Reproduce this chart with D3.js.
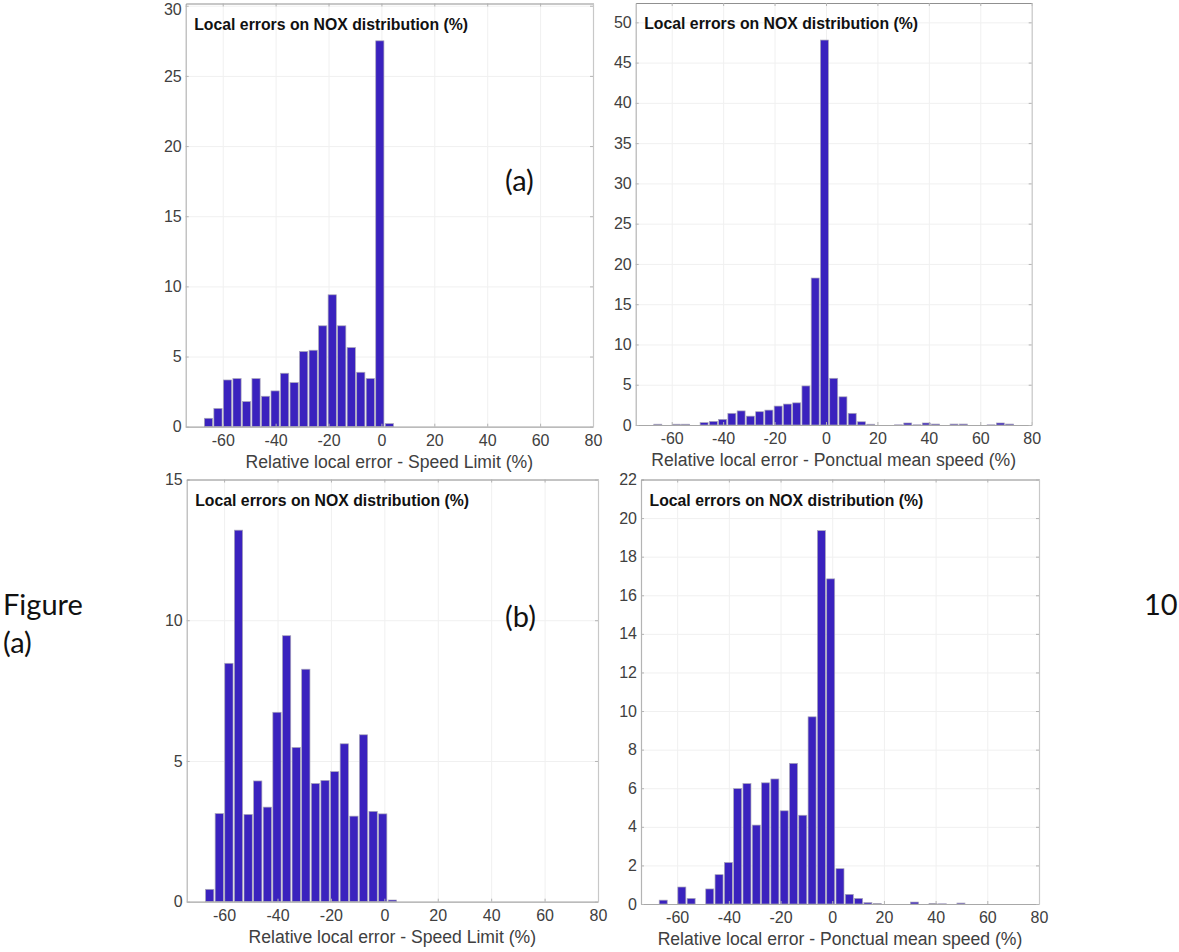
<!DOCTYPE html>
<html>
<head>
<meta charset="utf-8">
<script src="https://cdn.jsdelivr.net/npm/d3@7"></script>
<style>
  html, body { margin: 0; padding: 0; background: #fff; }
  svg { display: block; }
  .tick text { font-family: "Liberation Sans", sans-serif; font-size: 16px; fill: #404040; }
</style>
</head>
<body>
<div id="chart"></div>
<script>
// histogram bin centres, shared by the four panels
var binCenters = [-65.4, -61.8, -58.2, -54.6, -51, -47.4, -43.8, -40.2, -36.6, -33,
    -29.4, -25.8, -22.2, -18.6, -15, -11.4, -7.8, -4.2, -0.6, 3,
    6.6, 10.2, 13.8, 17.4, 21, 24.6, 28.2, 31.8, 35.4, 39,
    42.6, 46.2, 49.8, 53.4, 57, 60.6, 64.2, 67.8, 71.4, 75];

// values, one per bin
var speedLimitA = [0.6, 1.3, 3.33, 3.43, 1.79, 3.43, 2.17, 2.55, 3.81, 3.14,
    5.36, 5.45, 7.19, 9.4, 7.19, 5.64, 3.88, 3.43, 27.5, 0.22,
    0, 0, 0, 0, 0, 0, 0, 0, 0, 0,
    0, 0, 0, 0, 0, 0, 0, 0, 0, 0];
var meanSpeedA = [0.1, 0, 0.1, 0.1, 0, 0.3, 0.45, 0.7, 1.45, 1.75,
    1.1, 1.65, 1.85, 2.35, 2.6, 2.75, 4.85, 18.25, 47.8, 5.8,
    3.5, 1.45, 0.4, 0.1, 0, 0, 0.02, 0.25, 0.02, 0.25,
    0.12, 0, 0.12, 0.12, 0, 0, 0.02, 0.25, 0.12, 0];
var speedLimitB = [0.44, 3.13, 8.47, 13.2, 3.1, 4.29, 3.36, 6.73, 9.45, 5.48,
    8.26, 4.2, 4.31, 4.62, 5.61, 3.04, 5.93, 3.21, 3.12, 0.06,
    0, 0, 0, 0, 0, 0, 0, 0, 0, 0,
    0, 0, 0, 0, 0, 0, 0, 0, 0, 0];
var meanSpeedB = [0.2, 0, 0.88, 0.29, 0, 0.78, 1.52, 2.15, 5.98, 6.24,
    4.09, 6.28, 6.48, 4.83, 7.29, 4.6, 9.7, 19.35, 16.85, 1.83,
    0.5, 0.29, 0.07, 0.02, 0, 0, 0, 0.1, 0, 0.03,
    0.01, 0, 0.05, 0, 0, 0, 0, 0, 0, 0];

// tick labels
var xTicks = [-60, -40, -20, 0, 20, 40, 60, 80];
var yTicksA = [0, 5, 10, 15, 20, 25, 30];
var yTicksMeanA = [0, 5, 10, 15, 20, 25, 30, 35, 40, 45, 50];
var yTicksB = [0, 5, 10, 15];
var yTicksMeanB = [0, 2, 4, 6, 8, 10, 12, 14, 16, 18, 20, 22];

var panelTitle = "Local errors on NOX distribution (%)";
var labelSpeedLimit = "Relative local error - Speed Limit (%)";
var labelMeanSpeed = "Relative local error - Ponctual mean speed (%)";

var panels = [
    { left: 185.7, right: 593, top: 3.5, bottom: 426.7, yMax: 30.16, values: speedLimitA, yTicks: yTicksA, xLabel: labelSpeedLimit },
    { left: 635.7, right: 1031.7, top: 3, bottom: 425, yMax: 52.4, values: meanSpeedA, yTicks: yTicksMeanA, xLabel: labelMeanSpeed },
    { left: 186.7, right: 598, top: 479.5, bottom: 901.7, yMax: 15, values: speedLimitB, yTicks: yTicksB, xLabel: labelSpeedLimit },
    { left: 641, right: 1039, top: 479.5, bottom: 904, yMax: 22, values: meanSpeedB, yTicks: yTicksMeanB, xLabel: labelMeanSpeed }
];

var svg = d3.select("#chart")
    .append("svg")
    .attr("width", 1179)
    .attr("height", 952);

// plain hyphen on the negative ticks, like the original
function plainNumber(d) { return String(d); }

panels.forEach(function (p) {
    var w = p.right - p.left,
        h = p.bottom - p.top;

    var g = svg.append("g")
        .attr("transform", "translate(" + p.left + "," + p.top + ")");

    var x = d3.scaleLinear().domain([-74, 80]).range([0, w]);
    var y = d3.scaleLinear().domain([0, p.yMax]).range([h, 0]);

    // grid lines
    var xGrid = g.append("g")
        .attr("transform", "translate(0," + h + ")")
        .call(d3.axisBottom(x).tickValues(xTicks).tickSize(-h).tickFormat(""));
    var yGrid = g.append("g")
        .call(d3.axisLeft(y).tickValues(p.yTicks).tickSize(-w).tickFormat(""));
    [xGrid, yGrid].forEach(function (a) {
        a.select(".domain").remove();
        a.selectAll("line").attr("stroke", "#f0f0f0").attr("stroke-width", 1);
    });

    // bars
    var barWidth = x(3.1) - x(0);
    g.selectAll("rect.bar")
        .data(binCenters)
        .enter().append("rect")
        .attr("class", "bar")
        .attr("x", function (d) { return x(d) - barWidth / 2; })
        .attr("y", function (d, i) { return y(p.values[i]); })
        .attr("width", barWidth)
        .attr("height", function (d, i) { return h - y(p.values[i]); })
        .attr("fill", "#3a22be")
        .attr("stroke", "#a9a6b8")
        .attr("stroke-width", 0.7);

    // axes, ticks point inwards on all four sides
    var xAxis = g.append("g")
        .attr("transform", "translate(0," + h + ")")
        .call(d3.axisBottom(x).tickValues(xTicks).tickSizeInner(-3).tickSizeOuter(0).tickPadding(8).tickFormat(plainNumber));
    var yAxis = g.append("g")
        .call(d3.axisLeft(y).tickValues(p.yTicks).tickSizeInner(-3).tickSizeOuter(0).tickPadding(4).tickFormat(plainNumber));
    var xTop = g.append("g")
        .call(d3.axisTop(x).tickValues(xTicks).tickSizeInner(-3).tickSizeOuter(0).tickFormat(""));
    var yRight = g.append("g")
        .attr("transform", "translate(" + w + ",0)")
        .call(d3.axisRight(y).tickValues(p.yTicks).tickSizeInner(-3).tickSizeOuter(0).tickFormat(""));

    // the top label of the first panel sits against the page edge, push it down a little
    yAxis.selectAll(".tick text")
        .filter(function (d) { return p.top + y(d) < 9; })
        .attr("dy", "8.3px");

    xAxis.select(".domain").attr("stroke", "#a8a8a8").attr("stroke-width", 1.2);
    yAxis.select(".domain").attr("stroke", "#b4b4b4").attr("stroke-width", 1.2);
    xTop.select(".domain").attr("stroke", "#909090").attr("stroke-width", 1.2);
    yRight.select(".domain").attr("stroke", "#c8c8c8").attr("stroke-width", 1.2);
    [xAxis, yAxis, xTop, yRight].forEach(function (a) {
        a.selectAll("line").attr("stroke", "#b4b4b4");
    });

    g.append("text")
        .attr("x", 8.5)
        .attr("y", 26)
        .attr("font-family", "Liberation Sans, sans-serif")
        .attr("font-weight", "bold")
        .attr("font-size", "15.8px")
        .attr("fill", "#111")
        .text(panelTitle);

    g.append("text")
        .attr("x", w / 2)
        .attr("y", h + 41)
        .attr("text-anchor", "middle")
        .attr("font-family", "Liberation Sans, sans-serif")
        .attr("font-size", "17.6px")
        .attr("fill", "#404040")
        .text(p.xLabel);
});

// text around the panels
var notes = [
    { x: 505, y: 191, text: "(a)" },
    { x: 505, y: 627, text: "(b)" },
    { x: 3, y: 615, text: "Figure" },
    { x: 3, y: 653, text: "(a)" },
    { x: 1144, y: 615, text: "10" }
];
svg.selectAll("text.note")
    .data(notes)
    .enter().append("text")
    .attr("class", "note")
    .attr("x", function (d) { return d.x; })
    .attr("y", function (d) { return d.y; })
    .attr("font-family", "Lato, sans-serif")
    .attr("font-size", "29px")
    .attr("fill", "#111")
    .text(function (d) { return d.text; });
</script>
</body>
</html>
